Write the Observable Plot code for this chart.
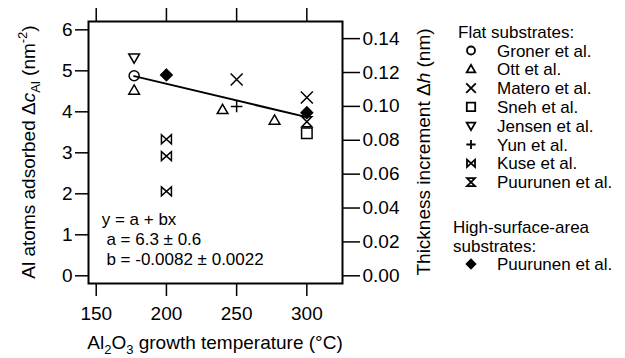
<!DOCTYPE html>
<html><head><meta charset="utf-8">
<script src="https://cdn.jsdelivr.net/npm/d3@7"></script>
<script src="https://cdn.jsdelivr.net/npm/@observablehq/plot@0.6"></script>
<style>
body{margin:0;background:#fff;}
#chart{width:625px;height:358px;}
svg{font-family:"Liberation Sans",Arial,sans-serif;}
</style></head><body><div id="chart"></div>
<script>
// ---- data ----
const xTicks = [150, 200, 250, 300];
const yTicks = [0, 1, 2, 3, 4, 5, 6];
const hTicks = [0, 0.02, 0.04, 0.06, 0.08, 0.10, 0.12, 0.14];
const nmPerAtom = 0.0242; // right axis (nm) per left axis unit (nm^-2)
const xDomain = [144.5, 325.4];
const yDomain = [-0.188, 6.203];

const gronerTemp = [177],            gronerAl = [4.88];
const ottTemp = [177, 240, 277],     ottAl = [4.52, 4.05, 3.79];
const materoTemp = [250, 300],       materoAl = [4.79, 4.35];
const snehTemp = [300],              snehAl = [3.48];
const jensenTemp = [177],            jensenAl = [5.32];
const yunTemp = [250],               yunAl = [4.13];
const kuseTemp = [200, 200, 200],    kuseAl = [3.33, 2.92, 2.06];
const puuFlatTemp = [300],           puuFlatAl = [3.76];
const puuHsaTemp = [200, 300],       puuHsaAl = [4.90, 3.98];
const fitTemp = [177, 300],          fitAl = [4.87, 3.87];

const flatNames = ["Groner et al.", "Ott et al.", "Matero et al.", "Sneh et al.", "Jensen et al.", "Yun et al.", "Kuse et al.", "Puurunen et al."];
const hsaNames = ["Puurunen et al."];
const fitText = ["y = a + bx", " a = 6.3 ± 0.6", " b = -0.0082 ± 0.0022"];

// ---- custom symbols ----
const R = s => Math.sqrt(s / Math.PI);
const sym = {
  circle: {draw(c, s){ const r = R(s); c.moveTo(r, 0); c.arc(0, 0, r, 0, 2 * Math.PI); }},
  triUp: {draw(c, s){ const r = R(s); c.moveTo(0, -1.1*r); c.lineTo(1.07*r, 0.75*r); c.lineTo(-1.07*r, 0.75*r); c.closePath(); }},
  triDown: {draw(c, s){ const r = R(s); c.moveTo(0, 1.1*r); c.lineTo(1.07*r, -0.75*r); c.lineTo(-1.07*r, -0.75*r); c.closePath(); }},
  times: {draw(c, s){ const r = R(s)*1.2; c.moveTo(-r, -r); c.lineTo(r, r); c.moveTo(r, -r); c.lineTo(-r, r); }},
  plus: {draw(c, s){ const r = R(s)*1.15; c.moveTo(-r, 0); c.lineTo(r, 0); c.moveTo(0, -r); c.lineTo(0, r); }},
  square: {draw(c, s){ const r = R(s)*1.05; c.moveTo(-r, -r); c.lineTo(r, -r); c.lineTo(r, r); c.lineTo(-r, r); c.closePath(); }},
  diamond: {draw(c, s){ const r = R(s)*1.15; c.moveTo(0, -r); c.lineTo(r, 0); c.lineTo(0, r); c.lineTo(-r, 0); c.closePath(); }},
  bowtie: {draw(c, s){ const r = R(s); c.moveTo(-r, -0.9*r); c.lineTo(r, 0.9*r); c.lineTo(r, -0.9*r); c.lineTo(-r, 0.9*r); c.closePath(); }},
  hourglass: {draw(c, s){ const r = R(s); c.moveTo(-r, -r); c.lineTo(r, -r); c.lineTo(-r, r); c.lineTo(r, r); c.closePath(); }}
};

const series = [
  {name: flatNames[0], t: gronerTemp, c: gronerAl, s: sym.circle, fill: "none"},
  {name: flatNames[1], t: ottTemp, c: ottAl, s: sym.triUp, fill: "none"},
  {name: flatNames[2], t: materoTemp, c: materoAl, s: sym.times, fill: "none"},
  {name: flatNames[3], t: snehTemp, c: snehAl, s: sym.square, fill: "none"},
  {name: flatNames[4], t: jensenTemp, c: jensenAl, s: sym.triDown, fill: "none"},
  {name: flatNames[5], t: yunTemp, c: yunAl, s: sym.plus, fill: "none"},
  {name: flatNames[6], t: kuseTemp, c: kuseAl, s: sym.bowtie, fill: "none"},
  {name: flatNames[7], t: puuFlatTemp, c: puuFlatAl, s: sym.hourglass, fill: "none"}
];
const hsaSeries = [{name: hsaNames[0], t: puuHsaTemp, c: puuHsaAl, s: sym.diamond, fill: "black"}];
const rows = (t, c) => t.map((v, i) => ({t: v, c: c[i]}));

const dotMarks = [...series, ...hsaSeries].map(d => Plot.dot(rows(d.t, d.c), {
  x: "t", y: "c", r: 5, symbol: d.s, stroke: "black", fill: d.fill, strokeWidth: 1.5
}));

const W = 625, H = 358;
const plot = Plot.plot({
  width: W, height: H,
  marginLeft: 88, marginRight: 283, marginTop: 21, marginBottom: 75,
  style: {fontFamily: "Liberation Sans, Arial, sans-serif", fontSize: "19px", color: "black", background: "white", overflow: "visible"},
  x: {domain: xDomain},
  y: {domain: yDomain},
  marks: [
    Plot.axisX({anchor: "bottom", ticks: xTicks, tickSize: 13, tickPadding: 10, label: null, strokeWidth: 1.5, fontSize: 19, tickFormat: d => String(d)}),
    Plot.axisX({anchor: "top", ticks: xTicks, tickSize: 14, tickFormat: () => "", label: null, strokeWidth: 1.5}),
    Plot.axisY({anchor: "left", ticks: yTicks, tickSize: 13, tickPadding: 3, label: null, strokeWidth: 1.5, fontSize: 19, tickFormat: d => String(d)}),
    Plot.axisY({anchor: "right", ticks: hTicks.map(h => h / nmPerAtom), tickFormat: d => (d * nmPerAtom).toFixed(2), tickSize: 17, tickPadding: 3, label: null, strokeWidth: 1.5, fontSize: 19}),
    Plot.frame({strokeWidth: 2}),
    Plot.line(rows(fitTemp, fitAl), {x: "t", y: "c", strokeWidth: 2, stroke: "black"}),
    ...dotMarks
  ]
});
document.getElementById("chart").appendChild(plot);

// ---- titles, annotation and legend ----
const svg = d3.select(plot);
const ff = "Liberation Sans, Arial, sans-serif";

const xt = svg.append("text").attr("x", 215).attr("y", 349).attr("text-anchor", "middle").attr("font-size", 19).attr("font-family", ff).attr("fill", "black");
xt.append("tspan").text("Al");
xt.append("tspan").attr("font-size", 13).attr("dy", 5).text("2");
xt.append("tspan").attr("dy", -5).text("O");
xt.append("tspan").attr("font-size", 13).attr("dy", 5).text("3");
xt.append("tspan").attr("dy", -5).text(" growth temperature (°C)");

const yt = svg.append("text").attr("transform", "translate(35,152) rotate(-90)").attr("text-anchor", "middle").attr("font-size", 19).attr("font-family", ff).attr("fill", "black");
yt.append("tspan").text("Al atoms adsorbed Δ");
yt.append("tspan").attr("font-style", "italic").text("c");
yt.append("tspan").attr("font-size", 13).attr("dy", 5).text("Al");
yt.append("tspan").attr("dy", -5).text(" (nm");
yt.append("tspan").attr("font-size", 13).attr("dy", -8).text("-2");
yt.append("tspan").attr("dy", 8).text(")");

const rt = svg.append("text").attr("transform", "translate(430,152) rotate(-90)").attr("text-anchor", "middle").attr("font-size", 19).attr("font-family", ff).attr("fill", "black");
rt.append("tspan").text("Thickness increment Δ");
rt.append("tspan").attr("font-style", "italic").text("h");
rt.append("tspan").text(" (nm)");

const ann = svg.append("g").attr("font-size", 17).attr("font-family", ff).attr("fill", "black").attr("text-anchor", "start");
fitText.forEach((s, i) => ann.append("text").attr("x", 101.7).attr("y", 225 + i * 20).attr("text-anchor", "start").style("white-space", "pre").text(s));

const lg = svg.append("g").attr("font-size", 17).attr("font-family", ff).attr("fill", "black").attr("text-anchor", "start");
lg.append("text").attr("x", 458).attr("y", 38).attr("text-anchor", "start").text("Flat substrates:");
const symPath = (s, r) => { const p = d3.path(); s.draw(p, r * r * Math.PI); return p.toString(); };
series.forEach((d, i) => {
  const y = 56.5 + i * 18.8;
  lg.append("path").attr("d", symPath(d.s, 4)).attr("transform", `translate(471,${y - 6})`).attr("fill", d.fill).attr("stroke", "black").attr("stroke-width", 1.8);
  lg.append("text").attr("x", 497).attr("y", y).attr("text-anchor", "start").text(d.name);
});
lg.append("text").attr("x", 453).attr("y", 233).attr("text-anchor", "start").text("High-surface-area");
lg.append("text").attr("x", 453).attr("y", 251.5).attr("text-anchor", "start").text("substrates:");
hsaSeries.forEach((d, i) => {
  const y = 270 + i * 18.8;
  lg.append("path").attr("d", symPath(d.s, 4)).attr("transform", `translate(471,${y - 6})`).attr("fill", d.fill).attr("stroke", "black").attr("stroke-width", 1.5);
  lg.append("text").attr("x", 497).attr("y", y).attr("text-anchor", "start").text(d.name);
});
</script></body></html>
